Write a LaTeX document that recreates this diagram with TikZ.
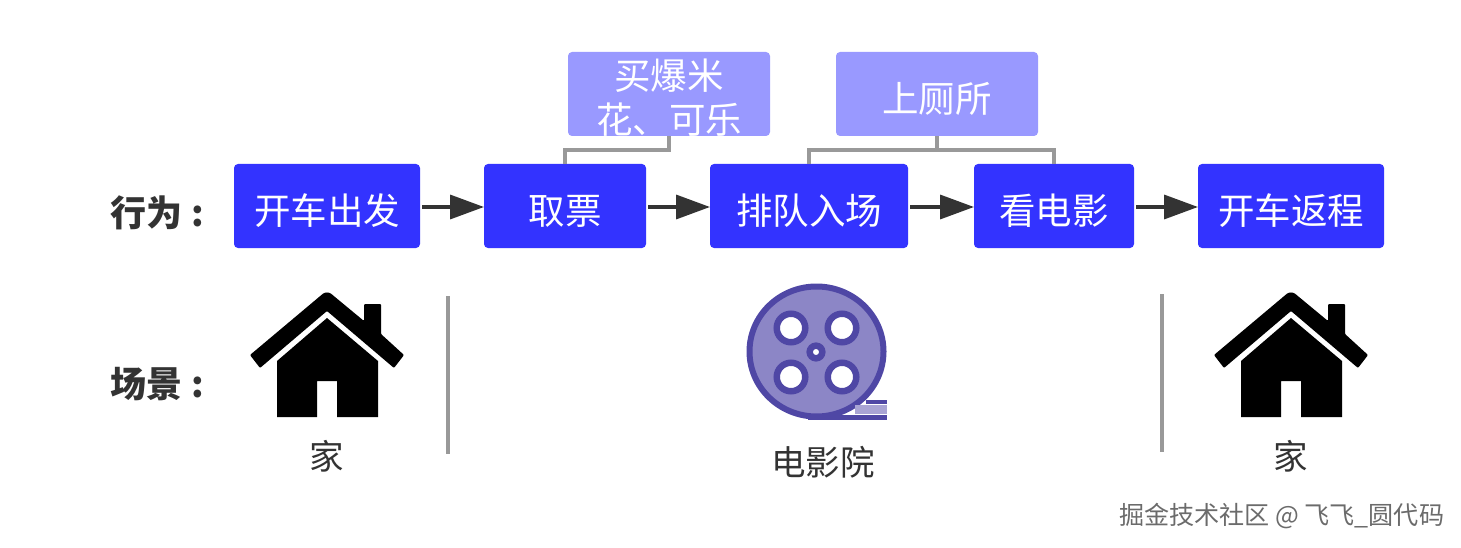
\documentclass[tikz,border=0pt]{standalone}
\usepackage{fontspec}
\setmainfont{Noto Sans CJK SC}
\usetikzlibrary{arrows.meta}
\definecolor{mainblue}{HTML}{3333FF}
\definecolor{lightblue}{HTML}{9999FF}
\definecolor{reelfill}{HTML}{8C86C6}
\definecolor{reelline}{HTML}{4F47A5}
\definecolor{txt}{HTML}{333333}
\definecolor{rule}{HTML}{999999}
\tikzset{
  every node/.style={inner sep=0pt,outer sep=0pt},
  actbox/.style={fill=mainblue,rounded corners=4pt,minimum height=84pt,text=white,font=\fontsize{36.5}{44}\selectfont,text depth=0pt,text height=36pt},
  subbox/.style={fill=lightblue,rounded corners=4pt,minimum width=202pt,minimum height=84pt},
  subtext/.style={text=white,align=center,font=\fontsize{36.5}{44}\selectfont},
  rowlabel/.style={text=txt,anchor=west,font=\fontsize{36}{40}\selectfont\bfseries},
  placelabel/.style={text=txt,font=\fontsize{34.5}{40}\selectfont},
  flow/.style={draw=txt,line width=3.5pt,shorten <=2pt,-{Triangle[length=34pt,width=24pt]}},
  bracket/.style={draw=rule,line width=3.5pt},
  divider/.style={draw=rule,line width=3.5pt},
  reel/.style={draw=reelline,line width=6pt},
  reelhole/.style={draw=reelline,line width=6.5pt,fill=white}
}
\newcommand{\housepic}[1]{%
  \begin{scope}[shift={(#1,0)}]
    \fill[rounded corners=1pt] (260,368) -- (250,355) -- (322,294.5) .. controls (325,292) and (329,292) .. (332,294.5) -- (364,321) -- (364,304) -- (381,304) -- (381,334) -- (404,355) -- (394,368) -- (327,311) -- cycle;
    \fill (327,318) -- (378,361) -- (378,417) -- (337,417) -- (337,381) -- (317,381) -- (317,417) -- (277,417) -- (277,361) -- cycle;
  \end{scope}}
\begin{document}
\begin{tikzpicture}[x=1pt,y=-1pt]
\useasboundingbox (0,0) rectangle (1461,548);
% action boxes
\node[actbox,minimum width=186pt] (a1) at (327,206) {开车出发};
\node[actbox,minimum width=162pt] (a2) at (565,206) {取票};
\node[actbox,minimum width=198pt] (a3) at (809,206) {排队入场};
\node[actbox,minimum width=160pt] (a4) at (1054,206) {看电影};
\node[actbox,minimum width=186pt] (a5) at (1291,206) {开车返程};
% side boxes
\node[subbox] (s1) at (669,94) {};
\begin{scope}
  \clip (568,52) rectangle (770,136);
  \node[subtext] (s1t) at (669,98) {买爆米\\花、可乐};
\end{scope}
\node[subbox] (s2) at (937,94) {};
\node[subtext] (s2t) at (937,99) {上厕所};
% row labels
\node[rowlabel] (r1) at (110,213) {行为\hspace{9pt}:};
\node[rowlabel] (r2) at (110,384) {场景\hspace{9pt}:};
% arrows
\foreach \p/\q in {a1/a2,a2/a3,a3/a4,a4/a5}
  \draw[flow] ([yshift=-1pt]\p.east) -- ([yshift=-1pt]\q.west);
% brackets
\coordinate (b1) at (669,150);
\coordinate (b2) at (937,150);
\draw[bracket] (a2.north) |- (b1) -- (s1.south);
\draw[bracket] (a3.north) |- (b2) -| (a4.north);
\draw[bracket] (b2) -- (s2.south);
% houses
\housepic{0}
\housepic{964}
% reel
\filldraw[reel,fill=reelfill] (816.5,351.5) ellipse [x radius=67pt,y radius=65pt];
\foreach \cx/\cy in {791/328,842/328,791/377,842/377}
  \filldraw[reelhole] (\cx,\cy) circle (14.25pt);
\filldraw[draw=reelline,line width=6.5pt,fill=white] (816,352) circle (6.3pt);
\fill[reelfill!75] (855,405) rectangle (887,414);
\draw[draw=reelline,line width=5pt] (808,417) -- (887,417);
\draw[draw=reelline,line width=4.5pt] (866,402) -- (887,402);
% dividers
\coordinate (d1a) at (448,296); \coordinate (d1b) at (448,454);
\coordinate (d2a) at (1162,294); \coordinate (d2b) at (1162,452);
\draw[divider] (d1a) -- (d1b);
\draw[divider] (d2a) -- (d2b);
% place labels
\node[placelabel] (p1) at (327,456) {家};
\node[placelabel] (p2) at (823,462) {电影院};
\node[placelabel] (p3) at (1291,456) {家};
% watermark
\node[text=black!58,font=\fontsize{25.1}{30}\selectfont,anchor=west] (wm) at (1119,516) {掘金技术社区 @ 飞飞\_圆代码};
\end{tikzpicture}
\end{document}
